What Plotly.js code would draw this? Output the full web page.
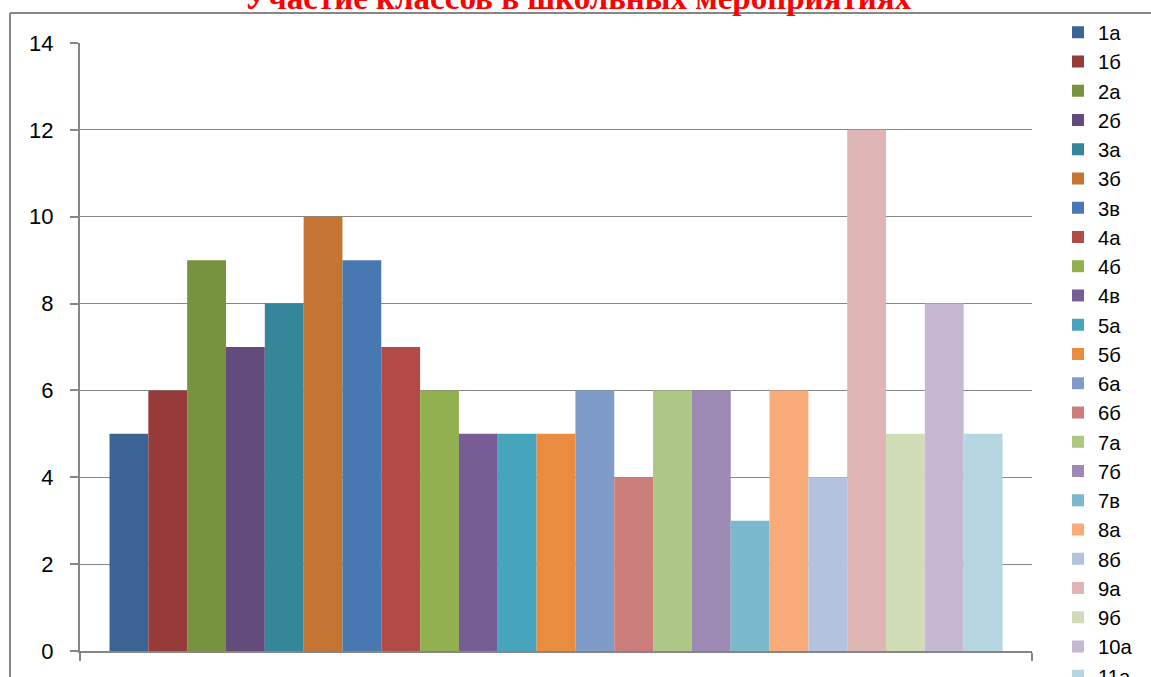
<!DOCTYPE html>
<html><head><meta charset="utf-8">
<script src="https://cdn.plot.ly/plotly-3.0.1.min.js"></script>
<style>html,body{margin:0;padding:0;background:#fff;overflow:hidden;}#chart{width:1151px;height:760px;}</style>
</head><body><div id="chart"></div>
<script>
const classes = ["1а","1б","2а","2б","3а","3б","3в","4а","4б","4в","5а","5б","6а","6б","7а","7б","7в","8а","8б","9а","9б","10а","11а"];
const counts = [5,6,9,7,8,10,9,7,6,5,5,5,6,4,6,6,3,6,4,12,5,8,5];
const colors = ["#3B6394","#963B39","#78933F","#634B7C","#35869A","#C47532","#4878B2","#B24B48","#92B050","#765D96","#46A4BC","#EA8C3F","#7F9CC8","#CB7D7C","#AFC785","#9C89B4","#7AB8CE","#F8AA78","#B4C2DE","#DFB5B5","#D0DCB6","#C4B8D2","#B5D5E0"];
const category = ["Участие"];
const chartTitle = "Участие классов в школьных мероприятиях";

const traces = classes.map((c,i)=>({
  type:'bar', name:c, x:[category[0]], y:[counts[i]],
  marker:{color:colors[i], line:{width:0}}, legendgroup:'g'+i, hoverinfo:'name+y'
}));

// Canvas is taller than the 677px viewport so the legend can run off the bottom like the reference.
const W=1151,H=760, L=80, R=1151-1032, T=43, B=H-651;
const pw=W-L-R, ph=H-T-B;
const px=v=>(v-L)/pw, py=v=>(H-B-v)/ph;

const layout = {
  width:W, height:H, margin:{l:L,r:R,t:T,b:B,pad:0},
  paper_bgcolor:'#fff', plot_bgcolor:'#fff',
  font:{family:'Liberation Sans, Arial, sans-serif', color:'#000'},
  barmode:'group', bargap:0.062, bargroupgap:0,
  xaxis:{type:'category', range:[-0.5,0.5], showticklabels:false, showgrid:false, showline:true, linecolor:'#868686', linewidth:2,
    ticks:'outside', tickson:'boundaries', ticklen:8, tickcolor:'#868686', tickwidth:2, zeroline:false, fixedrange:true},
  yaxis:{range:[0,14], dtick:2, tick0:0, showgrid:true, gridcolor:'#868686', gridwidth:1, showline:true, linecolor:'#868686', linewidth:2,
    ticks:'outside', ticklen:8, tickcolor:'#868686', tickwidth:2, zeroline:false, tickfont:{size:22, family:'Liberation Sans, Arial, sans-serif'},
    ticklabelstandoff:12, fixedrange:true},
  legend:{x:px(1058), xanchor:'left', y:py(12.5), yanchor:'top', yref:'paper', font:{size:20.2}, tracegroupgap:0, traceorder:'grouped',
    itemwidth:30, bgcolor:'rgba(0,0,0,0)', borderwidth:0, maxheight:3000},
  showlegend:true,
  annotations:[{text:chartTitle, xref:'paper', yref:'paper', x:px(578), xanchor:'center', y:py(-2), yanchor:'middle', showarrow:false,
    font:{family:'Liberation Serif, Times New Roman, serif', size:33, color:'#FF0000', weight:'bold'}}],
  shapes:[
    {type:'line', xref:'paper', yref:'paper', x0:px(10), x1:px(1151), y0:py(13), y1:py(13), line:{color:'#868686', width:2}},
    {type:'line', xref:'paper', yref:'paper', x0:px(10), x1:px(10), y0:py(13), y1:py(760), line:{color:'#868686', width:2}}
  ]
};
Plotly.newPlot('chart', traces, layout, {displayModeBar:false, staticPlot:true});
</script></body></html>
